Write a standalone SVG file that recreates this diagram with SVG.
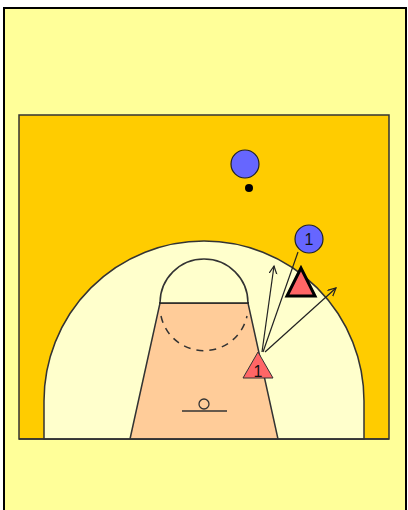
<svg xmlns="http://www.w3.org/2000/svg" width="408" height="510" viewBox="0 0 408 510">
<style>
.court{stroke:#333;stroke-width:1.5}
.line{fill:none;stroke:#222;stroke-width:1.2}
.lbl{font-family:"Liberation Sans",Arial,sans-serif;font-size:16px;fill:#111;text-anchor:middle}
.blue{fill:#6666FF;stroke:#222;stroke-width:1.2}
</style>
<defs>
<marker id="arr" markerWidth="10" markerHeight="10" refX="8" refY="4" orient="auto" markerUnits="userSpaceOnUse">
<path d="M0,0 L8,4 L0,8" fill="none" stroke="#222" stroke-width="1.2"/>
</marker>
</defs>
<rect x="4" y="8" width="402" height="506" fill="#FFFF99" stroke="#000" stroke-width="2"/>
<g id="court">
<rect x="19" y="115" width="370" height="324" fill="#FFCC00" class="court"/>
<path d="M44,439 L44,401 A160,160 0 0 1 364,401 L364,439 Z" fill="#FFFFCC" class="court"/>
<path d="M130,439 L160,303 L248,303 L278,439 Z" fill="#FFCC99" class="court"/>
<path d="M160,303 A44,44 0 0 1 248,303" fill="#FFFFCC" class="court"/>
<line x1="159" y1="303" x2="249" y2="303" stroke="#222" stroke-width="1.5"/>
<path d="M161,316 A44,44 0 0 0 247,316" fill="none" stroke="#333" stroke-width="1.5" stroke-dasharray="7,6"/>
<line x1="182" y1="411" x2="227" y2="411" stroke="#333" stroke-width="1.5"/>
<circle cx="204" cy="404" r="5" fill="none" stroke="#333" stroke-width="1.3"/>
<line x1="19" y1="439" x2="389" y2="439" stroke="#333" stroke-width="1.5"/>
</g>
<g id="connectors">
<line x1="262" y1="352" x2="274" y2="266" class="line" marker-end="url(#arr)"/>
<line x1="263" y1="352" x2="298" y2="252" class="line"/>
<line x1="265" y1="352" x2="336" y2="288" class="line" marker-end="url(#arr)"/>
</g>
<g id="defender">
<circle cx="245" cy="164" r="14" class="blue"/>
</g>
<g id="ball">
<circle cx="249" cy="188" r="4" fill="#000"/>
</g>
<g id="player1">
<circle cx="309" cy="239" r="14" class="blue"/>
<text x="309" y="245" class="lbl">1</text>
</g>
<g id="offense-big">
<polygon points="301,268 287,296 315,296" fill="#FF6666" stroke="#000" stroke-width="3" stroke-linejoin="miter"/>
</g>
<g id="offense1">
<polygon points="258,352 243,378 273,378" fill="#FF6666" stroke="#333" stroke-width="1"/>
<text x="258" y="377" class="lbl">1</text>
</g>
</svg>
